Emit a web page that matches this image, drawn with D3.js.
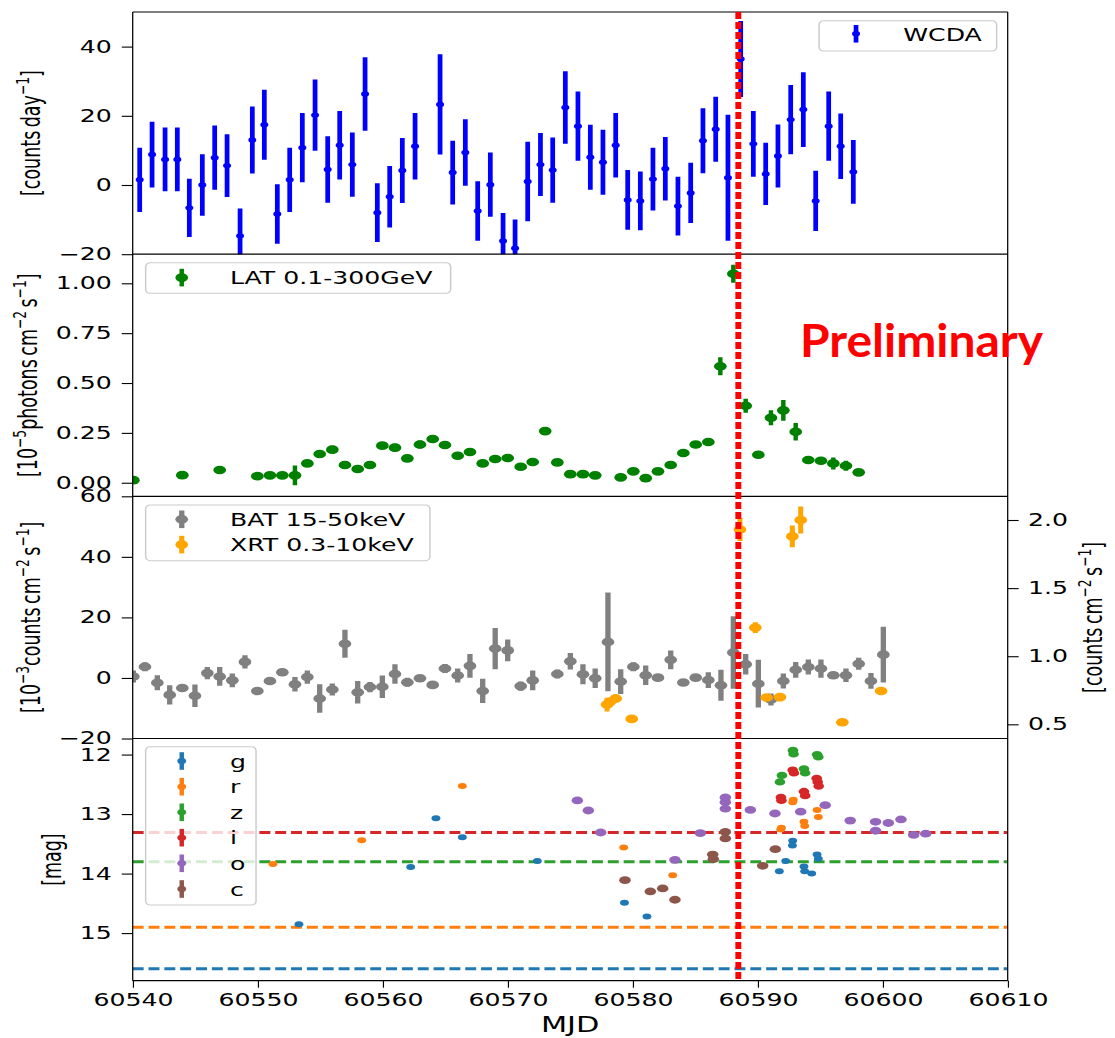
<!DOCTYPE html>
<html>
<head>
<meta charset="utf-8">
<script src="https://cdn.jsdelivr.net/npm/d3@7"></script>
<style>
  body { margin: 0; background: #fff; }
  svg { display: block; }
</style>
</head>
<body>
<svg id="fig" width="1115" height="1038"></svg>
<script>
// ---------- WCDA daily rate [counts/day] ----------
const wcdaMjd = [60540.56,60541.55,60542.59,60543.57,60544.53,60545.57,60546.56,60547.55,60548.59,60549.57,
  60550.53,60551.57,60552.56,60553.57,60554.59,60555.6,60556.56,60557.57,60558.59,60559.57,
  60560.56,60561.57,60562.59,60564.59,60565.6,60566.61,60567.6,60568.61,60569.63,60570.59,
  60571.6,60572.62,60573.6,60574.61,60575.62,60576.61,60577.62,60578.64,60579.6,60580.61,
  60581.62,60582.61,60583.62,60584.64,60585.62,60586.64,60587.62,60588.64,60589.65,60590.64,
  60591.62,60592.64,60593.65,60594.64,60595.68,60596.64,60597.65];
const wcdaRate = [1.5,8.8,7.4,7.4,-6.6,0,7.9,5.6,-14.7,13.0,
  17.4,-8.4,1.5,10.8,20.2,4.5,11.5,5.9,26.3,-8.0,
  -3.4,4.2,11.2,23.3,3.6,9.4,-7.5,0.1,-16.2,-18.3,
  1.0,5.9,4.3,22.4,17.0,8.0,6.6,11.5,-4.3,-4.6,
  1.7,4.7,-6.1,-2.3,12.8,16.1,2.1,36.4,11.9,3.2,
  8.4,18.9,21.8,-4.6,17.0,11.2,3.8];
const wcdaErr = [9.3,9.5,9.2,9.2,8.4,8.9,9.3,9.1,7.9,9.7,
  10.1,8.6,9.3,10.0,10.3,9.6,9.9,9.3,10.6,8.5,
  8.9,9.4,9.6,14.5,9.2,9.6,8.6,9.3,8.1,8.3,
  11.5,9.1,9.4,10.5,10.0,9.4,9.4,9.3,8.6,8.5,
  9.1,9.2,8.5,8.7,9.4,9.4,18.2,11.0,9.5,9.0,
  9.1,10.0,10.8,8.7,10.0,9.5,9.2];

// ---------- Fermi-LAT 0.1-300 GeV flux [1e-5 ph/cm2/s] ----------
const latMjd = [60540.05,60543.97,60546.96,60549.97,60550.98,60551.97,60552.98,60553.97,60554.96,60555.97,
  60556.98,60558.0,60558.98,60559.97,60560.98,60561.97,60562.98,60564.0,60564.98,60566.0,
  60566.98,60568.0,60569.0,60570.0,60571.04,60572.0,60573.0,60573.97,60575.01,60576.02,
  60577.0,60579.04,60580.05,60581.04,60582.02,60583.04,60584.05,60585.04,60586.05,60587.01,
  60588.05,60589.04,60590.05,60591.06,60592.05,60593.04,60594.05,60595.06,60596.05,60597.06,
  60598.08];
const latFlux = [0.013,0.038,0.064,0.033,0.037,0.037,0.037,0.097,0.144,0.166,
  0.089,0.069,0.089,0.186,0.176,0.122,0.192,0.219,0.189,0.135,
  0.154,0.097,0.119,0.124,0.080,0.104,0.259,0.102,0.043,0.043,
  0.037,0.027,0.057,0.023,0.057,0.089,0.149,0.192,0.204,0.584,
  1.048,0.386,0.140,0.326,0.363,0.256,0.114,0.110,0.097,0.085,
  0.052];
const latErr = [0.01,0.01,0.01,0.01,0.01,0.01,0.05,0.015,0.02,0.02,
  0.01,0.01,0.01,0.012,0.02,0.01,0.02,0.015,0.015,0.012,
  0.015,0.012,0.01,0.01,0.01,0.01,0.012,0.01,0.01,0.01,
  0.015,0.01,0.01,0.01,0.01,0.018,0.02,0.012,0.012,0.045,
  0.045,0.035,0.012,0.038,0.052,0.044,0.015,0.012,0.03,0.025,
  0.015];

// ---------- Swift-BAT 15-50 keV rate [1e-3 counts/cm2/s] ----------
const batMjd = [60540.05,60540.98,60541.97,60542.96,60543.97,60544.98,60545.97,60546.96,60547.97,60548.98,
  60549.97,60550.98,60551.97,60552.98,60553.97,60554.96,60555.97,60556.98,60558.0,60558.98,
  60559.97,60560.98,60561.97,60562.98,60564.0,60564.98,60566.0,60566.98,60568.0,60569.0,
  60570.0,60571.04,60572.0,60573.97,60575.01,60576.02,60577.0,60578.02,60579.04,60580.05,
  60581.04,60582.02,60583.04,60584.05,60585.04,60586.05,60587.06,60588.05,60589.04,60590.05,
  60591.06,60592.05,60593.04,60594.05,60595.06,60596.05,60597.06,60598.08,60599.06,60600.05];
const batRate = [0.5,3.7,-1.6,-5.6,-3.3,-5.9,1.6,0.5,-0.8,5.3,
  -4.3,-1.0,1.9,-2.1,0.3,-6.8,-3.8,11.3,-4.7,-3.0,
  -2.9,1.3,-1.4,-0.1,-2.3,3.1,0.8,4.0,-4.3,9.7,
  9.1,-2.7,-0.8,1.3,5.5,1.2,-0.1,11.9,-1.2,3.7,
  0.9,0.1,6.0,-1.5,0.1,-0.7,-2.4,8.4,4.5,-1.9,
  -7.1,-1.0,2.7,3.6,3.1,0.9,0.9,4.7,-1.0,7.7];
const batErr = [2,1.5,2.5,3.2,1,3.7,2,3.1,2.3,2.2,
  1,1,1,2.4,2.2,4.7,2,4.6,3.7,1.7,
  3.7,3.2,1.5,1,1,1.5,2.3,3.9,4.0,6.8,
  3.6,1.5,3.3,1.5,2.7,3.3,3.2,16.3,4.1,1.5,
  3.2,1,3.1,1,1,2.6,5.1,12,3.4,7.9,
  2,2.5,2.6,2.5,3,1,2.2,2,2.6,9.2];

// ---------- Swift-XRT 0.3-10 keV rate [counts/cm2/s], right axis ----------
const xrtMjd  = [60577.95,60578.18,60578.64,60579.92,60588.58,60589.81,60590.72,60591.78,60592.77,60593.44,60596.77,60599.87];
const xrtRate = [0.645,0.665,0.69,0.54,1.93,1.21,0.697,0.70,1.88,2.0,0.515,0.745];
const xrtErr  = [0.05,0.03,0.03,0.02,0.085,0.04,0.02,0.03,0.08,0.1,0.02,0.02];

// ---------- optical photometry [mag] ----------
const gMjd = [60553.3,60562.24,60564.26,60566.37,60572.37,60579.34,60581.14,60591.73,60592.24,60592.8,60592.78,60593.7,60593.76,60594.32,60594.75,60594.85];
const gMag = [14.85,13.89,13.07,13.39,13.79,14.49,14.72,13.96,13.79,13.45,13.53,13.88,13.96,14.0,13.68,13.75];
const rMjd = [60551.22,60558.32,60566.37,60579.28,60583.2,60591.84,60591.9,60592.8,60592.85,60593.7,60593.76,60594.75,60594.85];
const rMag = [13.84,13.44,12.53,13.56,14.03,13.26,13.23,12.8,12.76,13.13,13.2,12.93,13.05];
const zMjd = [60591.78,60591.94,60592.82,60592.87,60593.7,60593.8,60594.75,60594.85];
const zMag = [12.46,12.35,11.93,11.99,12.24,12.31,12.0,12.04];
const iMjd = [60591.86,60591.9,60592.8,60592.9,60593.7,60593.8,60594.72,60594.8,60594.88];
const iMag = [12.72,12.77,12.26,12.31,12.62,12.69,12.4,12.46,12.53];
const oMjd = [60575.57,60576.45,60577.44,60583.38,60585.41,60587.41,60587.41,60587.41,60589.41,60591.38,
  60593.44,60595.4,60597.4,60599.43,60599.43,60600.45,60601.46,60602.48,60603.44];
const oMag = [12.77,12.94,13.31,13.77,13.32,12.72,12.8,12.91,12.93,12.99,
  12.96,12.85,13.11,13.13,13.28,13.15,13.09,13.35,13.33];
const cMjd = [60579.38,60581.41,60582.4,60583.38,60586.4,60586.45,60587.41,60587.41,60590.4,60591.41];
const cMag = [14.11,14.30,14.25,14.44,13.68,13.76,13.30,13.41,13.87,13.59];

// quiescent reference levels per band
const refBands = ["i", "z", "r", "g"];
const refMags  = [13.31, 13.80, 14.9, 15.6];

// flare reference epoch
const t0Mjd = 60588.45;

// x ticks
const xTicks = [60540, 60550, 60560, 60570, 60580, 60590, 60600, 60610];

// ---------------------------------------------------------------
const SX = 1.48;                       // horizontal aspect of the figure canvas
const FONT = "DejaVu Sans";
const svg = d3.select("#fig");
const fig = svg.append("g").attr("transform", `scale(${SX},1)`);

const X0 = 132.7 / SX, X1 = 1007.7 / SX;
const x = d3.scaleLinear().domain([60540, 60610]).range([X0, X1]);

const P = [12, 254.2, 496.3, 738.5, 980.7]; // panel edges (top..bottom)

const y1 = d3.scaleLinear().domain([-20, 50]).range([P[1], P[0]]);
const y2 = d3.scaleLinear().domain([-0.068, 1.146]).range([P[2], P[1]]);
const y3 = d3.scaleLinear().domain([-20, 60]).range([P[3], P[2]]);
const y3r = d3.scaleLinear().domain([0.396, 2.174]).range([P[3], P[2]]);
const y4 = d3.scaleLinear().domain([15.8, 11.73]).range([P[4], P[3]]);

const bandColor = { g: "#1f77b4", r: "#ff7f0e", z: "#2ca02c", i: "#d62728", o: "#9467bd", c: "#8c564b" };

// clip paths for each panel
const defs = svg.append("defs");
[0, 1, 2, 3].forEach(k => {
  defs.append("clipPath").attr("id", "clip" + k)
    .append("rect").attr("x", X0).attr("y", P[k]).attr("width", X1 - X0).attr("height", P[k + 1] - P[k]);
});

function panelLayer(k) {
  return fig.append("g").attr("clip-path", `url(#clip${k})`);
}

function errorbars(layer, xs, ys, es, yScale, color, r, lw) {
  const data = xs.map((m, i) => ({ m, v: ys[i], e: es ? es[i] : 0 }));
  layer.append("g").selectAll("line").data(data).join("line")
    .attr("x1", d => x(d.m)).attr("x2", d => x(d.m))
    .attr("y1", d => yScale(d.v - d.e)).attr("y2", d => yScale(d.v + d.e))
    .attr("stroke", color).attr("stroke-width", lw);
  layer.append("g").selectAll("circle").data(data).join("circle")
    .attr("cx", d => x(d.m)).attr("cy", d => yScale(d.v)).attr("r", r)
    .attr("fill", color);
}

// ---- panel 1: WCDA
errorbars(panelLayer(0), wcdaMjd, wcdaRate, wcdaErr, y1, "#0000ff", 2.7, 3.2);
// ---- panel 2: LAT
errorbars(panelLayer(1), latMjd, latFlux, latErr, y2, "#008000", 4.3, 3.0);
// ---- panel 3: BAT + XRT
errorbars(panelLayer(2), batMjd, batRate, batErr, y3, "#808080", 4.3, 3.6);
errorbars(panelLayer(2), xrtMjd, xrtRate, xrtErr, y3r, "#ffa500", 4.3, 3.4);

// ---- panel 4: optical
const L4 = panelLayer(3);
L4.append("g").selectAll("line").data(refBands.map((b, i) => ({ b, m: refMags[i] }))).join("line")
  .attr("x1", X0).attr("x2", X1)
  .attr("y1", d => y4(d.m)).attr("y2", d => y4(d.m))
  .attr("stroke", d => bandColor[d.b]).attr("stroke-width", 3)
  .attr("stroke-dasharray", "7.4,3.3");
const bands = [
  ["g", gMjd, gMag, 3.0], ["r", rMjd, rMag, 3.0], ["z", zMjd, zMag, 3.6],
  ["i", iMjd, iMag, 3.6], ["o", oMjd, oMag, 3.9], ["c", cMjd, cMag, 3.9]
];
bands.forEach(([b, ms, mags, r]) => errorbars(L4, ms, mags, mags.map(() => 0.02), y4, bandColor[b], r, 2));

// ---- frames
const frame = fig.append("g").attr("stroke", "#000");
P.forEach(yy => frame.append("line").attr("x1", X0).attr("x2", X1).attr("y1", yy).attr("y2", yy).attr("stroke-width", 1.2));
[X0, X1].forEach(xx => frame.append("line").attr("x1", xx).attr("x2", xx).attr("y1", P[0]).attr("y2", P[4]).attr("stroke-width", 0.85));

// ---- axes
function styleAxis(sel, vertical) {
  sel.select(".domain").remove();
  sel.attr("font-family", FONT).attr("font-size", 17);
  sel.selectAll(".tick line").attr("stroke", "#000").attr("stroke-width", vertical ? 0.8 : 1.1);
  sel.selectAll(".tick text").attr("fill", "#000");
}
const minus = s => s.replace("-", "\u2212");
const fmtInt = d => minus(d3.format("d")(d));

fig.append("g").attr("transform", `translate(${X0},0)`)
  .call(d3.axisLeft(y1).tickValues([-20, 0, 20, 40]).tickFormat(fmtInt).tickSize(7.4).tickPadding(6.8))
  .call(s => styleAxis(s, false));
fig.append("g").attr("transform", `translate(${X0},0)`)
  .call(d3.axisLeft(y2).tickValues([0, 0.25, 0.5, 0.75, 1.0]).tickFormat(d3.format(".2f")).tickSize(7.4).tickPadding(6.8))
  .call(s => styleAxis(s, false));
fig.append("g").attr("transform", `translate(${X0},0)`)
  .call(d3.axisLeft(y3).tickValues([-20, 0, 20, 40, 60]).tickFormat(fmtInt).tickSize(7.4).tickPadding(6.8))
  .call(s => styleAxis(s, false));
fig.append("g").attr("transform", `translate(${X1},0)`)
  .call(d3.axisRight(y3r).tickValues([0.5, 1.0, 1.5, 2.0]).tickFormat(d3.format(".1f")).tickSize(7.4).tickPadding(6.3))
  .call(s => styleAxis(s, false));
fig.append("g").attr("transform", `translate(${X0},0)`)
  .call(d3.axisLeft(y4).tickValues([12, 13, 14, 15]).tickFormat(d3.format("d")).tickSize(7.4).tickPadding(6.8))
  .call(s => styleAxis(s, false));
fig.append("g").attr("transform", `translate(0,${P[4]})`)
  .call(d3.axisBottom(x).tickValues(xTicks).tickFormat(d3.format("d")).tickSize(7).tickPadding(6))
  .call(s => styleAxis(s, true));

// ---- axis labels
function richLabel(parent, xb, yc, parts, size, rotate) {
  const t = parent.append("text")
    .attr("transform", `translate(${xb},${yc})` + (rotate ? " rotate(-90)" : ""))
    .attr("text-anchor", "middle").attr("font-family", FONT).attr("font-size", size).attr("fill", "#000");
  let shifted = false;
  parts.forEach(p => {
    const sup = typeof p !== "string";
    const txt = sup ? p.sup : p;
    const ts = t.append("tspan").text(txt);
    if (sup) { ts.attr("font-size", size * 0.7).attr("dy", -size * 0.42); shifted = true; }
    else if (shifted) { ts.attr("dy", size * 0.42); shifted = false; }
  });
  return t;
}
const LS = 17.5;
richLabel(fig, 27.2, (P[0] + P[1]) / 2, ["[counts\u2009day", { sup: "\u22121" }, "]"], LS, true);
richLabel(fig, 25.0, (P[1] + P[2]) / 2, ["[10", { sup: "\u22125" }, "photons\u2009cm", { sup: "\u22122" }, "\u2009s", { sup: "\u22121" }, "]"], LS, true);
richLabel(fig, 27.2, (P[2] + P[3]) / 2, ["[10", { sup: "\u22123" }, "counts\u2009cm", { sup: "\u22122" }, "\u2009s", { sup: "\u22121" }, "]"], LS, true);
richLabel(fig, 41.0, (P[3] + P[4]) / 2, ["[mag]"], LS, true);
richLabel(fig, 744.3, (P[2] + P[3]) / 2, ["[counts\u2009cm", { sup: "\u22122" }, "\u2009s", { sup: "\u22121" }, "]"], LS, true);
fig.append("text").attr("x", (X0 + X1) / 2).attr("y", 1031.7).attr("text-anchor", "middle")
  .attr("font-family", FONT).attr("font-size", 20.5).attr("fill", "#000").text("MJD");

// ---- legends
function legend(x0, x1, yTop, yBot, items) {
  const g = fig.append("g");
  g.append("rect").attr("x", x0).attr("y", yTop).attr("width", x1 - x0).attr("height", yBot - yTop)
    .attr("rx", 3).attr("ry", 4).attr("fill", "#fff").attr("fill-opacity", 0.8)
    .attr("stroke", "#cccccc").attr("stroke-width", 1);
  items.forEach(it => {
    g.append("line").attr("x1", it.hx).attr("x2", it.hx).attr("y1", it.cy - 8.8).attr("y2", it.cy + 8.8)
      .attr("stroke", it.color).attr("stroke-width", it.lw);
    g.append("circle").attr("cx", it.hx).attr("cy", it.cy).attr("r", it.r).attr("fill", it.color);
    g.append("text").attr("x", it.tx).attr("y", it.cy + 6.8).attr("font-family", FONT)
      .attr("font-size", 17).attr("fill", "#000").text(it.label);
  });
}
legend(553.4, 673.4, 20.7, 51, [{ hx: 578.4, tx: 610.3, cy: 33.8, color: "#0000ff", r: 2.7, lw: 3.2, label: "WCDA" }]);
legend(98.4, 304.5, 262.7, 293.3, [{ hx: 122.8, tx: 155.4, cy: 277.6, color: "#008000", r: 4.3, lw: 3.0, label: "LAT 0.1-300GeV" }]);
legend(98.4, 290.5, 505, 560.7, [
  { hx: 122.8, tx: 155.4, cy: 519.3, color: "#808080", r: 4.3, lw: 3.6, label: "BAT 15-50keV" },
  { hx: 122.8, tx: 155.4, cy: 544.6, color: "#ffa500", r: 4.3, lw: 3.4, label: "XRT 0.3-10keV" }
]);
const legRows = [761, 786.7, 812.3, 837.7, 863.3, 889];
legend(98.4, 173, 746.7, 905, ["g", "r", "z", "i", "o", "c"].map((b, i) => (
  { hx: 122.8, tx: 155.4, cy: legRows[i], color: bandColor[b], r: 3.0, lw: 3.0, label: b })));

// ---- flare epoch marker across all panels
fig.append("line").attr("x1", x(t0Mjd)).attr("x2", x(t0Mjd)).attr("y1", P[0]).attr("y2", P[4])
  .attr("stroke", "#ff0000").attr("stroke-width", 4).attr("stroke-dasharray", "7,3");

// ---- watermark
svg.append("text").attr("x", 800).attr("y", 357.3)
  .attr("font-family", "Lato").attr("font-weight", 700).attr("font-size", 45)
  .attr("fill", "#ff0000").attr("textLength", 243).attr("lengthAdjust", "spacingAndGlyphs")
  .text("Preliminary");
</script>
</body>
</html>
